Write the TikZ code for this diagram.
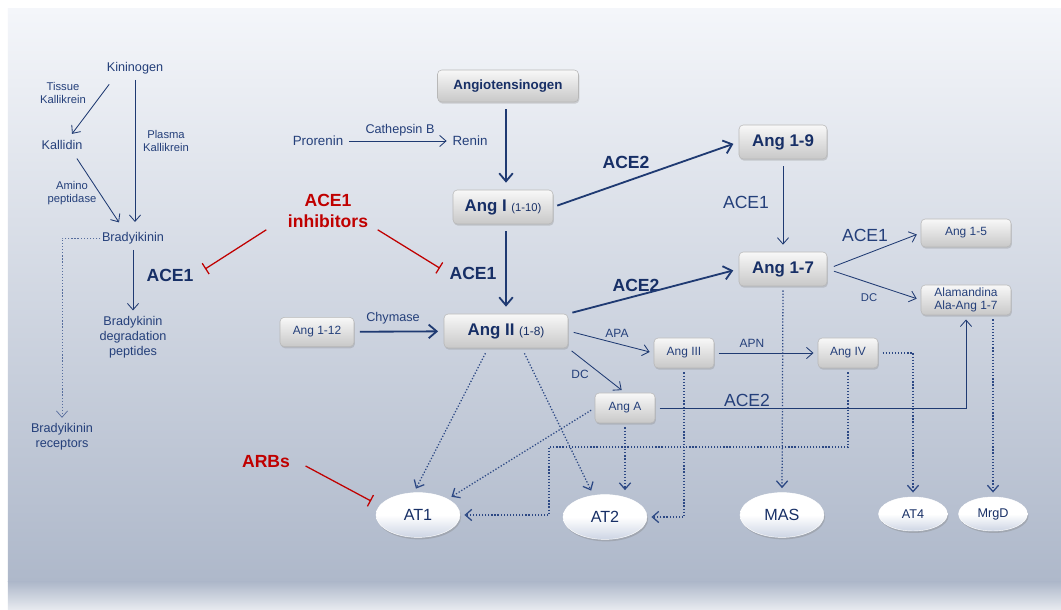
\documentclass[tikz,border=0pt]{standalone}
\usepackage{fontspec}
\setmainfont{Liberation Sans}
\usetikzlibrary{arrows.meta,shapes.geometric,shadows}
\definecolor{diagramText}{HTML}{243F7A}
\definecolor{diagramBold}{HTML}{172F66}
\definecolor{diagramFlow}{HTML}{1F3A72}
\definecolor{diagramBind}{HTML}{2C4884}
\definecolor{diagramInhibit}{HTML}{C00000}
\definecolor{diagramBoxLine}{HTML}{B8B8B8}
\definecolor{diagramBoxTop}{HTML}{F8F8F8}
\definecolor{diagramBoxBottom}{HTML}{C8C8C8}
\definecolor{diagramRecBottom}{HTML}{CDD5E4}
\definecolor{diagramBgTop}{HTML}{F4F6FA}
\definecolor{diagramBgMid}{HTML}{AEB8CA}
\definecolor{diagramBgBottom}{HTML}{E8EBF0}

\begin{document}
\begin{tikzpicture}[
    x=1cm,y=1cm,
    every node/.style={align=center,text=diagramText,inner sep=1pt},
    txt/.style={font=\fontsize{9}{10.5}\selectfont},
    small/.style={font=\fontsize{8}{9.2}\selectfont},
    enzyme/.style={font=\fontsize{12.5}{14}\selectfont},
    boldenzyme/.style={font=\bfseries\fontsize{12.5}{14}\selectfont,text=diagramBold},
    blocker/.style={font=\bfseries\fontsize{12.5}{15.5}\selectfont,text=diagramInhibit},
    pep/.style={rounded corners=3pt,draw=diagramBoxLine,line width=0.4pt,top color=diagramBoxTop,bottom color=diagramBoxBottom,
        drop shadow={shadow xshift=0.6pt,shadow yshift=-1.2pt,opacity=0.3},font=\fontsize{8.5}{9.5}\selectfont,minimum height=0.75cm},
    mainpep/.style={pep,font=\bfseries\fontsize{12}{13}\selectfont,text=diagramBold,minimum height=0.85cm},
    receptor/.style={ellipse,draw=white,line width=0.3pt,top color=white,bottom color=diagramRecBottom,middle color=white,
        drop shadow={shadow xshift=0.8pt,shadow yshift=-1.4pt,opacity=0.35},font=\fontsize{11.5}{13}\selectfont,text=diagramBold,minimum width=2.1cm,minimum height=1.12cm},
    minor/.style={font=\fontsize{9}{10}\selectfont,minimum width=1.72cm,minimum height=0.85cm},
    flow/.style={-{Straight Barb[length=1.6mm,width=2.8mm]},draw=diagramFlow,line width=0.6pt},
    mainflow/.style={-{Straight Barb[length=2mm,width=3.4mm]},draw=diagramFlow,line width=1.3pt},
    bind/.style={-{Straight Barb[length=1.6mm,width=2.8mm]},draw=diagramBind,line width=0.9pt,dash pattern=on 0.9pt off 1.3pt},
    inhibit/.style={-{Bar[width=3.2mm]},draw=diagramInhibit,line width=0.9pt}
]
\useasboundingbox (0,0) rectangle (26.525,15.25);
\fill[white] (0,0) rectangle (26.525,15.25);
\shade[top color=diagramBgTop,bottom color=diagramBgMid] (0.2,0.7) rectangle (26.525,15.025);
\shade[top color=diagramBgMid,bottom color=diagramBgBottom] (0.2,0) rectangle (26.525,0.7);

\node[txt] (kininogen) at (3.375,13.55) {Kininogen};
\node[small] (tissuek) at (1.575,12.925) {Tissue\\Kallikrein};
\node[txt] (kallidin) at (1.55,11.625) {Kallidin};
\node[small] (plasmak) at (4.15,11.725) {Plasma\\Kallikrein};
\node[small] (aminop) at (1.8,10.425) {Amino\\peptidase};
\node[txt] (bradykinin) at (3.325,9.3) {Bradyikinin};
\node[boldenzyme] (ace1kinin) at (4.25,8.375) {ACE1};
\node[txt] (degradation) at (3.325,6.825) {Bradykinin\\degradation\\peptides};
\node[txt] (bkreceptors) at (1.55,4.325) {Bradyikinin\\receptors};
\draw[flow] ([shift={(0.1,-0.22)}]kininogen.south west) -- ([shift={(0.25,0.12)}]kallidin.north);
\draw[flow,shorten <=3pt,shorten >=6pt] (kininogen.south) -- (kininogen.south |- bradykinin.north);
\draw[flow] ([shift={(-0.18,-0.18)}]kallidin.south east) -- ([shift={(-0.35,0.2)}]bradykinin.north);
\draw[flow,shorten <=3pt,shorten >=3pt] (bradykinin.south) -- (bradykinin.south |- degradation.north);
\draw[bind,line width=0.5pt,draw=diagramBind!80] (bradykinin.west) -| ([yshift=3pt]bkreceptors.north);

\node[blocker] (inhibitors) at (8.2,9.975) {ACE1\\inhibitors};
\node[blocker] (arbs) at (6.65,3.7) {ARBs};

\node[mainpep,minimum width=3.525cm,minimum height=0.8cm,font=\bfseries\fontsize{9.5}{11}\selectfont] (angiotensinogen) at (12.7,13.1) {Angiotensinogen};
\node[txt,font=\fontsize{9.5}{11}\selectfont] (prorenin) at (7.95,11.725) {Prorenin};
\node[txt] (cathepsin) at (10.0,12.0) {Cathepsin B};
\node[txt,font=\fontsize{9.5}{11}\selectfont] (renin) at (11.75,11.725) {Renin};
\node[mainpep,minimum width=2.5cm] (angI) at (12.575,10.075) {Ang I {\mdseries\fontsize{8}{9}\selectfont (1-10)}};
\node[boldenzyme] (ace1main) at (11.825,8.425) {ACE1};
\node[boldenzyme] (ace2top) at (15.65,11.2) {ACE2};
\node[mainpep,minimum width=2.2cm] (ang19) at (19.575,11.7) {Ang 1-9};
\node[enzyme] (ace1mid) at (18.65,10.2) {ACE1};
\node[mainpep,minimum width=2.2cm] (ang17) at (19.575,8.525) {Ang 1-7};
\node[boldenzyme] (ace2mid) at (15.9,8.125) {ACE2};
\node[enzyme] (ace1right) at (21.625,9.375) {ACE1};
\node[pep,minimum width=2.25cm,minimum height=0.7cm] (ang15) at (24.15,9.425) {Ang 1-5};
\node[small] (dcright) at (21.725,7.8) {DC};
\node[pep,minimum width=2.25cm,minimum height=0.75cm,inner sep=0pt,font=\fontsize{8.5}{9.4}\selectfont] (alamandina) at (24.15,7.75) {Alamandina\\Ala-Ang 1-7};
\node[pep,minimum width=1.85cm,minimum height=0.73cm] (ang112) at (7.925,6.95) {Ang 1-12};
\node[txt] (chymase) at (9.825,7.3) {Chymase};
\node[mainpep,minimum width=3.1cm] (angII) at (12.65,6.975) {Ang II {\mdseries\fontsize{8.5}{9}\selectfont (1-8)}};
\node[small,font=\fontsize{8.5}{9.5}\selectfont] (apa) at (15.425,6.925) {APA};
\node[pep,minimum width=1.5cm] (angIII) at (17.1,6.425) {Ang III};
\node[small,font=\fontsize{8.5}{9.5}\selectfont] (apn) at (18.8,6.675) {APN};
\node[pep,minimum width=1.5cm] (angIV) at (21.2,6.425) {Ang IV};
\node[small,font=\fontsize{8.5}{9.5}\selectfont] (dcleft) at (14.5,5.9) {DC};
\node[pep,minimum width=1.5cm] (angA) at (15.625,5.05) {Ang A};
\node[enzyme] (ace2low) at (18.675,5.25) {ACE2};

\node[receptor] (at1) at (10.45,2.375) {AT1};
\node[receptor] (at2) at (15.125,2.325) {AT2};
\node[receptor] (mas) at (19.55,2.375) {MAS};
\node[receptor,minor] (at4) at (22.825,2.4) {AT4};
\node[receptor,minor] (mrgd) at (24.825,2.4) {MrgD};
\coordinate (angIVturn) at (13.725,4.075);

\draw[flow,shorten <=3pt,shorten >=3pt] (prorenin) -- (renin);
\draw[mainflow,shorten <=5pt,shorten >=5pt] (angII.north |- angiotensinogen.south) -- (angII.north |- angI.north);
\draw[mainflow,shorten <=5pt,shorten >=5pt] (angII.north |- angI.south) -- (angII.north);
\draw[mainflow,shorten <=3pt,shorten >=4pt] (angI.east) -- (ang19.west);
\draw[mainflow,shorten <=3pt,shorten >=4pt] (angII.north east) -- (ang17.west);
\draw[mainflow,shorten <=4pt,shorten >=4pt] (ang112) -- (angII);
\draw[flow,shorten <=5pt,shorten >=5pt] (ang19) -- (ang17);
\draw[flow,shorten <=5pt,shorten >=3pt] (ang17.east) -- (ang15.west);
\draw[flow,shorten <=5pt,shorten >=3pt] (ang17.east) -- (alamandina.west);
\draw[flow,shorten <=4pt,shorten >=3pt] (angII.east) -- (angIII.west);
\draw[flow,shorten <=3pt,shorten >=3pt] (angII.south east) -- (angA.north);
\draw[flow,shorten <=3pt,shorten >=3pt] (angIII) -- (angIV);
\draw[flow,shorten <=3pt,shorten >=3pt] (angA.east) -| (alamandina.south);

\draw[bind,shorten <=4pt,shorten >=3pt] ([xshift=-0.45cm]angII.south) -- ([xshift=-0.1cm]at1.north);
\draw[bind,shorten <=4pt,shorten >=3pt] ([xshift=0.4cm]angII.south) -- ([xshift=-0.3cm]at2.north);
\draw[bind,shorten <=3pt,shorten >=3pt] (angA.west) -- (at1.north east);
\draw[bind,shorten <=3pt,shorten >=3pt] (angA.south) -- (angA.south |- at2.north);
\draw[bind,shorten <=3pt,shorten >=3pt] (angIII.south) |- (at2.east);
\draw[bind,shorten <=3pt,shorten >=3pt] (angIV.south) |- (angIVturn) |- (at1.east);
\draw[bind,shorten <=3pt,shorten >=3pt] (ang17.south) -- (mas.north);
\draw[bind,shorten <=3pt,shorten >=3pt] (angIV.east) -| (at4.north);
\draw[bind,shorten <=3pt,shorten >=3pt] (mrgd.north |- alamandina.south) -- (mrgd.north);

\draw[inhibit] ([xshift=-0.5cm]inhibitors.south west) -- ([shift={(0.25,0.15)}]ace1kinin.east);
\draw[inhibit] ([xshift=0.2cm]inhibitors.south east) -- ([shift={(-0.2,0.12)}]ace1main.west);
\draw[inhibit] ([shift={(0.35,-0.1)}]arbs.east) -- ([shift={(-0.12,0.35)}]at1.west);
\end{tikzpicture}
\end{document}
